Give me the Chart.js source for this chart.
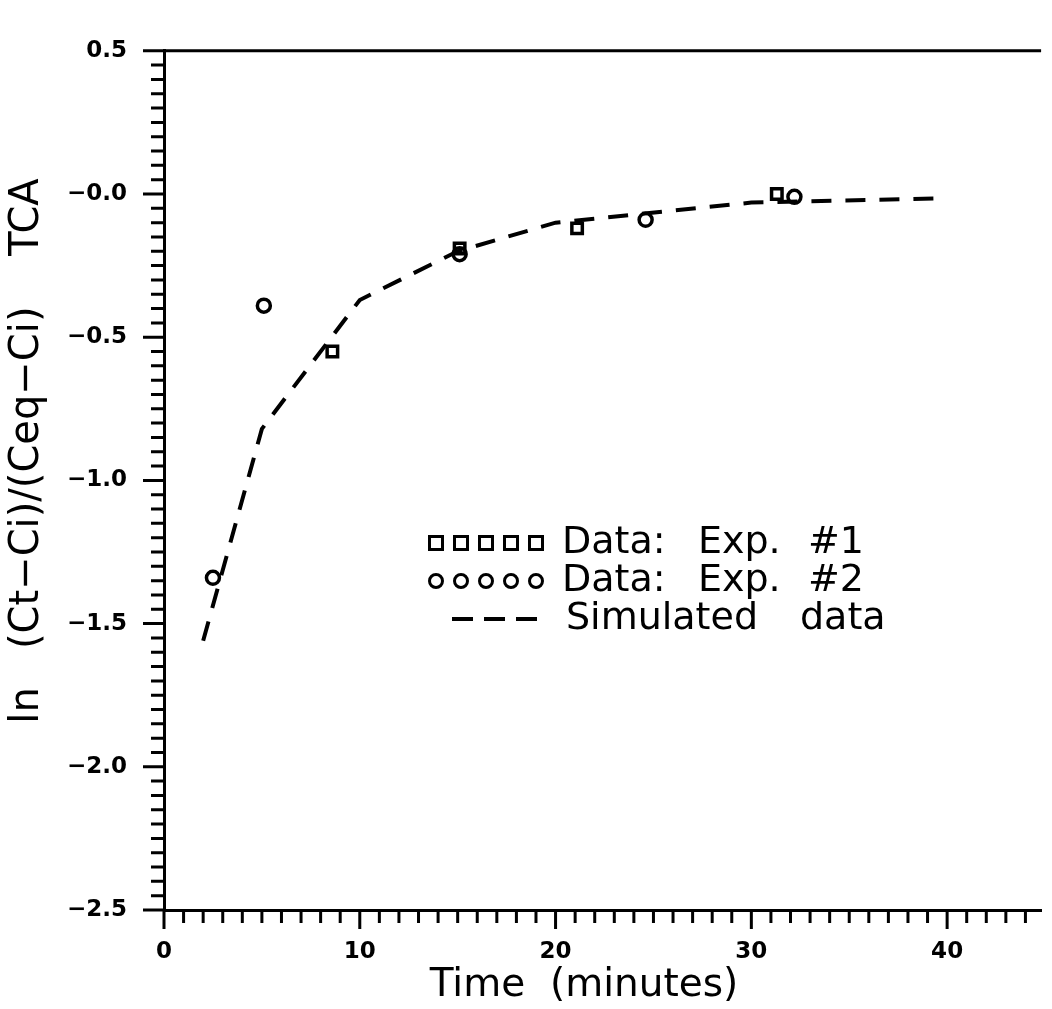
<!DOCTYPE html>
<html lang="en">
<head>
    <meta charset="UTF-8">
    <title>TCA uptake</title>
    <script src="https://cdn.jsdelivr.net/npm/chart.js"></script>
    <style>
        html, body { margin: 0; padding: 0; background: #fff; }
        .chart-box { width: 1052px; height: 1009px; position: relative; }
    </style>
</head>
<body>
    <div class="chart-box">
        <canvas id="tcaChart"></canvas>
    </div>
    <script>
        // values
        const exp1Time = [8.6, 15.1, 21.1, 31.3];
        const exp1Value = [-0.55, -0.19, -0.12, 0.0];
        const exp2Time = [2.5, 5.1, 15.1, 24.6, 32.2];
        const exp2Value = [-1.34, -0.39, -0.21, -0.09, -0.01];
        const simTime = [2, 5, 10, 15, 20, 30, 40];
        const simValue = [-1.56, -0.82, -0.37, -0.20, -0.10, -0.03, -0.015];

        const xTickLabels = [0, 10, 20, 30, 40];
        const yTickLabels = [0.5, 0, -0.5, -1.0, -1.5, -2.0, -2.5];

        const pts = (xs, ys) => xs.map((x, i) => ({ x: x, y: ys[i] }));
        const tickFont = { family: 'DejaVu Sans', size: 23, weight: 'bold' };
        const textFont = 'DejaVu Sans';

        // minor/major tick marks, top frame and the legend
        const framePlugin = {
            id: 'frame',
            afterDraw(chart) {
                const ctx = chart.ctx;
                const xs = chart.scales.x, ys = chart.scales.y;
                const area = chart.chartArea;
                ctx.save();
                ctx.strokeStyle = '#000';
                ctx.lineWidth = 3;
                ctx.beginPath();
                for (let i = 0; i <= 60; i++) {
                    const py = ys.getPixelForValue(-2.5 + i * 0.05);
                    const len = i % 10 === 0 ? 21 : 13;
                    ctx.moveTo(area.left - len, py);
                    ctx.lineTo(area.left, py);
                }
                for (let i = 0; i <= 44; i++) {
                    const px = xs.getPixelForValue(i);
                    const len = i % 10 === 0 ? 19 : 13;
                    ctx.moveTo(px, area.bottom);
                    ctx.lineTo(px, area.bottom + len);
                }
                ctx.moveTo(area.left, area.top);
                ctx.lineTo(area.right, area.top);
                ctx.stroke();

                // legend
                const lx = 428, rows = [543, 581, 619];
                ctx.lineWidth = 3;
                for (let i = 0; i < 5; i++) {
                    ctx.strokeRect(lx + 1.5 + i * 25, rows[0] - 6.5, 13, 13);
                    ctx.beginPath();
                    ctx.arc(lx + 8 + i * 25, rows[1], 6.5, 0, Math.PI * 2);
                    ctx.stroke();
                }
                ctx.lineWidth = 4;
                ctx.beginPath();
                [452, 484, 516].forEach(d => {
                    ctx.moveTo(d, rows[2]);
                    ctx.lineTo(d + 21, rows[2]);
                });
                ctx.stroke();
                ctx.fillStyle = '#000';
                ctx.font = '38px "' + textFont + '"';
                ctx.textBaseline = 'middle';
                ctx.fillText('Data:', 562, rows[0]);
                ctx.fillText('Exp.', 698, rows[0]);
                ctx.fillText('#1', 808, rows[0]);
                ctx.fillText('Data:', 562, rows[1]);
                ctx.fillText('Exp.', 698, rows[1]);
                ctx.fillText('#2', 808, rows[1]);
                ctx.fillText('Simulated', 566, rows[2]);
                ctx.fillText('data', 800, rows[2]);
                ctx.restore();
            }
        };

        const ctx = document.getElementById('tcaChart').getContext('2d');
        new Chart(ctx, {
            type: 'scatter',
            data: {
                datasets: [
                    {
                        label: 'Simulated data',
                        data: pts(simTime, simValue),
                        showLine: true,
                        borderColor: '#000',
                        borderWidth: 4,
                        borderDash: [20, 14],
                        pointRadius: 0,
                        tension: 0
                    },
                    {
                        label: 'Data: Exp. #1',
                        data: pts(exp1Time, exp1Value),
                        pointStyle: 'rect',
                        pointRadius: 7.4,
                        borderColor: '#000',
                        borderWidth: 3.5,
                        backgroundColor: 'rgba(0,0,0,0)'
                    },
                    {
                        label: 'Data: Exp. #2',
                        data: pts(exp2Time, exp2Value),
                        pointStyle: 'circle',
                        pointRadius: 6.5,
                        borderColor: '#000',
                        borderWidth: 3.5,
                        backgroundColor: 'rgba(0,0,0,0)'
                    }
                ]
            },
            options: {
                responsive: true,
                maintainAspectRatio: false,
                animation: false,
                layout: { padding: { top: 25, right: 2, left: 0, bottom: 0 } },
                plugins: {
                    legend: { display: false },
                    tooltip: { enabled: false }
                },
                scales: {
                    x: {
                        type: 'linear',
                        min: 0,
                        max: 44.8,
                        afterFit: s => { s.height = 99; },
                        afterBuildTicks: s => { s.ticks = xTickLabels.map(v => ({ value: v })); },
                        grid: { display: false, drawTicks: false },
                        border: { display: true, color: '#000', width: 3 },
                        ticks: {
                            color: '#000',
                            font: tickFont,
                            padding: 28,
                            maxRotation: 0,
                            callback: v => String(v)
                        },
                        title: {
                            display: true,
                            text: 'Time  (minutes)   ',
                            color: '#000',
                            font: { family: textFont, size: 39 },
                            padding: { top: 0, bottom: 0 }
                        }
                    },
                    y: {
                        type: 'linear',
                        min: -2.5,
                        max: 0.5,
                        afterFit: s => { s.width = 164; },
                        afterBuildTicks: s => { s.ticks = yTickLabels.map(v => ({ value: v })); },
                        grid: { display: false, drawTicks: false },
                        border: { display: true, color: '#000', width: 3 },
                        ticks: {
                            color: '#000',
                            font: tickFont,
                            padding: 37,
                            autoSkip: false,
                            callback: v => (v === 0 ? '−0.0' : v.toFixed(1).replace('-', '−'))
                        },
                        title: {
                            display: true,
                            text: '    \u2009ln   (Ct−Ci)/(Ceq−Ci)    TCA',
                            color: '#000',
                            font: { family: textFont, size: 40 },
                            padding: { top: 4, bottom: 0 }
                        }
                    }
                }
            },
            plugins: [framePlugin]
        });
    </script>
</body>
</html>
